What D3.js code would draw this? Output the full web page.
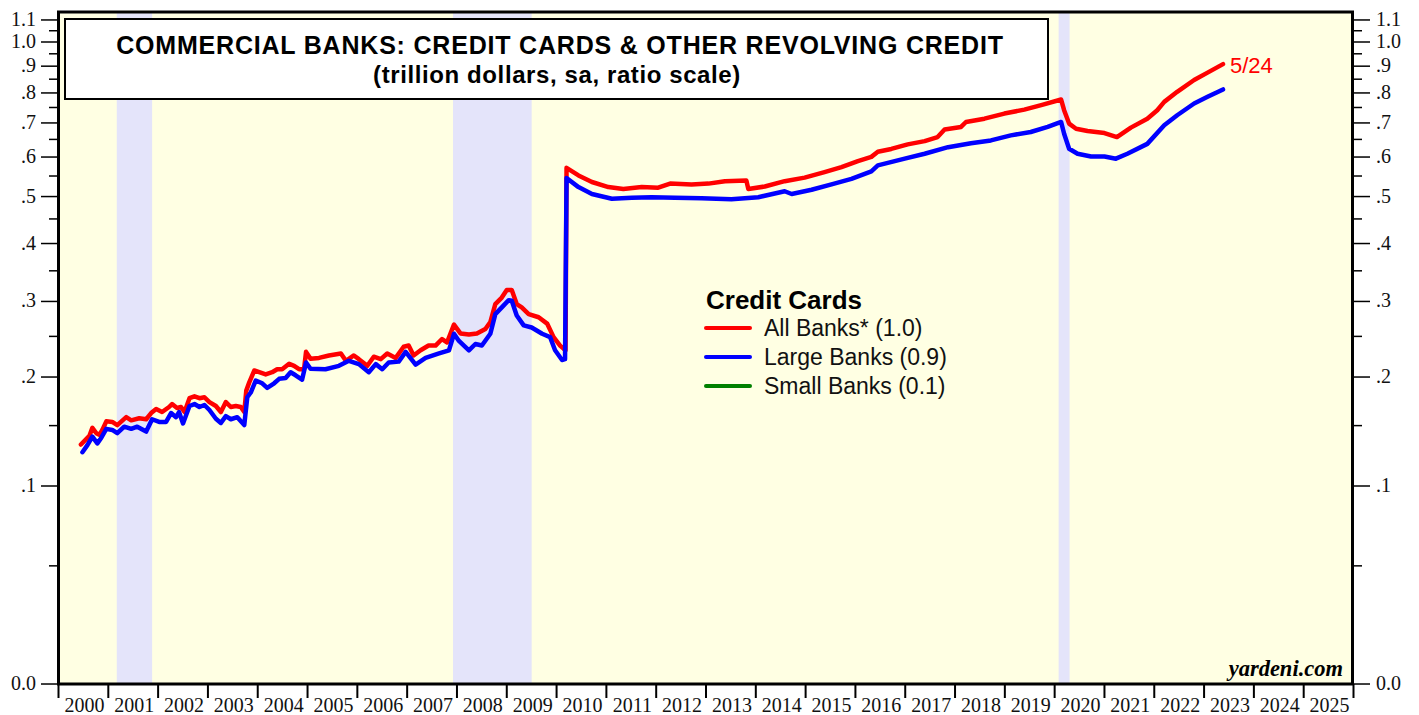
<!DOCTYPE html>
<html><head><meta charset="utf-8">
<script src="https://cdn.jsdelivr.net/npm/d3@7"></script>
<style>body{margin:0;background:#fff}svg{display:block}</style>
</head><body>
<svg id="chart" width="1419" height="715"></svg>
<script>
// ---------- DATA ----------
const yearTicks = d3.range(2000, 2026);
const yTickLabels = [1.1, 1.0, 0.9, 0.8, 0.7, 0.6, 0.5, 0.4, 0.3, 0.2, 0.1, 0.0];
const yTickText = ["1.1","1.0",".9",".8",".7",".6",".5",".4",".3",".2",".1","0.0"];
const yMinorTicks = [1.05, 0.95, 0.85, 0.75, 0.65, 0.55, 0.45, 0.35, 0.25, 0.15, 0.05];
const recessions = [[2001.17, 2001.88], [2007.92, 2009.5], [2020.08, 2020.3]];

const allDates = [2000.45,2000.62,2000.68,2000.76,2000.82,2000.88,2000.96,2001.08,2001.18,2001.36,2001.46,2001.62,2001.76,2001.86,2001.96,
 2002.08,2002.22,2002.28,2002.38,2002.46,2002.53,2002.63,2002.73,2002.83,2002.93,2003.03,2003.16,2003.26,2003.36,2003.46,2003.56,2003.66,2003.73,
 2003.77,2003.83,2003.93,2004.03,2004.16,2004.29,2004.39,2004.49,2004.63,2004.73,2004.83,2004.93,2004.97,2005.06,2005.23,2005.43,2005.67,2005.77,
 2005.93,2006.03,2006.20,2006.33,2006.47,2006.60,2006.77,2006.93,2007.03,2007.13,2007.27,2007.43,2007.57,2007.70,2007.80,2007.94,2008.07,2008.24,
 2008.40,2008.57,2008.67,2008.77,2008.90,2009.00,2009.10,2009.20,2009.30,2009.44,2009.64,2009.81,2009.94,2010.07,2010.14,2010.18,2010.20,2010.44,
 2010.71,2011.04,2011.34,2011.71,2012.04,2012.28,2012.71,2013.05,2013.38,2013.81,2013.85,2014.18,2014.58,2014.98,2015.38,2015.72,2016.05,2016.32,
 2016.45,2016.72,2017.05,2017.39,2017.65,2017.79,2018.12,2018.22,2018.59,2018.99,2019.39,2019.73,2020.13,2020.19,2020.29,2020.43,2020.66,2021.00,
 2021.25,2021.53,2021.86,2022.06,2022.20,2022.46,2022.80,2023.07,2023.38];
const allBanks = [0.133,0.1406,0.148,0.143,0.1415,0.146,0.154,0.1535,0.1505,0.158,0.155,0.157,0.156,0.162,0.166,
 0.163,0.168,0.171,0.167,0.168,0.163,0.177,0.179,0.177,0.178,0.173,0.169,0.163,0.173,0.168,0.169,0.168,0.163,
 0.185,0.194,0.2075,0.2055,0.203,0.2055,0.209,0.209,0.2155,0.213,0.209,0.209,0.230,0.2215,0.2225,0.2255,0.228,0.219,
 0.2255,0.221,0.213,0.224,0.221,0.228,0.2225,0.2365,0.238,0.2255,0.232,0.238,0.238,0.2465,0.242,0.266,0.254,0.2525,
 0.254,0.260,0.2695,0.296,0.306,0.318,0.318,0.296,0.291,0.281,0.2765,0.2675,0.249,0.238,0.234,0.232,0.571,0.5515,
 0.535,0.5225,0.518,0.5225,0.521,0.531,0.529,0.531,0.537,0.539,0.518,0.524,0.537,0.546,0.560,0.573,0.589,0.6005,
 0.6145,0.6225,0.6355,0.645,0.657,0.6795,0.6875,0.703,0.7135,0.730,0.743,0.758,0.777,0.741,0.698,0.682,0.675,0.669,
 0.657,0.6855,0.7135,0.741,0.769,0.804,0.847,0.875,0.908];

const largeDates = [2000.48,2000.58,2000.68,2000.78,2000.86,2000.96,2001.08,2001.18,2001.32,2001.46,2001.58,2001.76,2001.88,2002.02,2002.16,
 2002.26,2002.36,2002.42,2002.50,2002.63,2002.73,2002.83,2002.93,2003.03,2003.16,2003.26,2003.36,2003.46,2003.59,2003.73,2003.79,2003.86,2003.96,
 2004.09,2004.19,2004.33,2004.43,2004.56,2004.66,2004.76,2004.89,2004.97,2005.06,2005.36,2005.63,2005.83,2006.03,2006.23,2006.37,2006.50,2006.63,
 2006.83,2006.97,2007.17,2007.37,2007.64,2007.84,2007.94,2008.04,2008.24,2008.37,2008.50,2008.67,2008.77,2008.90,2009.04,2009.10,2009.20,2009.34,
 2009.50,2009.71,2009.87,2009.97,2010.11,2010.17,2010.20,2010.44,2010.71,2011.11,2011.51,2011.91,2012.38,2012.91,2013.51,2014.05,2014.58,2014.72,
 2015.12,2015.52,2015.92,2016.32,2016.45,2016.99,2017.39,2017.86,2018.32,2018.72,2019.12,2019.52,2019.86,2020.13,2020.19,2020.29,2020.46,2020.73,
 2021.00,2021.23,2021.46,2021.86,2022.20,2022.46,2022.80,2023.07,2023.38];
const largeBanks = [0.1265,0.1325,0.140,0.134,0.139,0.147,0.146,0.143,0.149,0.147,0.149,0.1445,0.156,0.1535,0.1535,
 0.162,0.158,0.163,0.152,0.169,0.171,0.168,0.170,0.165,0.1565,0.1525,0.159,0.156,0.158,0.1505,0.178,0.183,0.196,
 0.193,0.188,0.193,0.198,0.199,0.2055,0.202,0.197,0.217,0.2095,0.209,0.213,0.219,0.215,0.2055,0.215,0.209,0.217,
 0.218,0.230,0.2145,0.2225,0.228,0.232,0.2535,0.244,0.232,0.240,0.238,0.2535,0.281,0.291,0.302,0.301,0.279,0.265,
 0.262,0.2535,0.249,0.232,0.220,0.221,0.545,0.5225,0.506,0.495,0.497,0.4985,0.497,0.496,0.494,0.4985,0.5125,0.506,
 0.516,0.529,0.543,0.562,0.5775,0.5955,0.609,0.6275,0.639,0.647,0.662,0.672,0.6875,0.703,0.667,0.623,0.609,0.6015,
 0.6015,0.5955,0.609,0.637,0.6925,0.7245,0.7635,0.7865,0.8125];

const legendTitle = "Credit Cards";
const legendNames = ["All Banks* (1.0)", "Large Banks (0.9)", "Small Banks (0.1)"];
const legendColors = ["#ff0000", "#0000ff", "#008000"];
const titleLines = ["COMMERCIAL BANKS: CREDIT CARDS & OTHER REVOLVING CREDIT", "(trillion dollars, sa, ratio scale)"];

// ---------- LAYOUT ----------
const svg = d3.select("#chart");
const L = 58.5, R = 1352.5, T = 12, B = 684;
const OFF = 0.0825;
const x = d3.scaleLinear().domain([2000, 2026]).range([L, R + 1]);
const yl = d3.scaleLog().domain([0.1 + OFF, 1.0 + OFF]).range([486, 42]);
const y = v => yl(v + OFF);
const sans = "Liberation Sans, Arial, sans-serif";
const serif = "Liberation Serif, Times New Roman, serif";

svg.append("rect").attr("x", L).attr("y", T).attr("width", R - L).attr("height", B - T).attr("fill", "#ffffe3");
svg.selectAll("rect.rec").data(recessions).join("rect").attr("class", "rec")
  .attr("x", d => x(d[0])).attr("width", d => x(d[1]) - x(d[0]))
  .attr("y", T).attr("height", B - T).attr("fill", "#e4e4fa");

// title box
svg.append("rect").attr("x", 65).attr("y", 19).attr("width", 983).attr("height", 80)
  .attr("fill", "#fff").attr("stroke", "#000").attr("stroke-width", 2);
svg.append("text").attr("x", 560).attr("y", 54).attr("text-anchor", "middle")
  .attr("font-family", sans).attr("font-weight", "bold").attr("font-size", 25).attr("letter-spacing", 0.8)
  .text(titleLines[0]);
svg.append("text").attr("x", 557).attr("y", 83).attr("text-anchor", "middle")
  .attr("font-family", sans).attr("font-weight", "bold").attr("font-size", 24).attr("letter-spacing", 0.6)
  .text(titleLines[1]);

// lines
const line = d3.line().x(d => x(d[0])).y(d => y(d[1]));
svg.append("path").datum(allDates.map((d, i) => [d, allBanks[i]]))
  .attr("d", line).attr("fill", "none").attr("stroke", legendColors[0]).attr("stroke-width", 4.5)
  .attr("stroke-linejoin", "round").attr("stroke-linecap", "round");
svg.append("path").datum(largeDates.map((d, i) => [d, largeBanks[i]]))
  .attr("d", line).attr("fill", "none").attr("stroke", legendColors[1]).attr("stroke-width", 4.5)
  .attr("stroke-linejoin", "round").attr("stroke-linecap", "round");

svg.append("text").attr("x", x(2023.38) + 7).attr("y", 73)
  .attr("font-family", sans).attr("font-size", 22).attr("fill", "#ff0000").text("5/24");

// legend
const lg = svg.append("g").attr("font-family", sans);
lg.append("text").attr("x", 706).attr("y", 309).attr("font-weight", "bold").attr("font-size", 26).text(legendTitle);
legendNames.forEach((n, i) => {
  const yy = 328 + i * 29;
  lg.append("line").attr("x1", 706).attr("x2", 750).attr("y1", yy).attr("y2", yy)
    .attr("stroke", legendColors[i]).attr("stroke-width", 4).attr("stroke-linecap", "round");
  lg.append("text").attr("x", 764).attr("y", yy + 8).attr("font-size", 23).attr("fill", "#111").text(n);
});

// watermark
svg.append("text").attr("x", 1343).attr("y", 676).attr("text-anchor", "end")
  .attr("font-family", serif).attr("font-weight", "bold").attr("font-style", "italic")
  .attr("font-size", 22.5).text("yardeni.com");

// frame
svg.append("rect").attr("x", L).attr("y", T).attr("width", R - L).attr("height", B - T)
  .attr("fill", "none").attr("stroke", "#000").attr("stroke-width", 3);

// y axes
function yAxis(side) {
  const g = svg.append("g");
  const dir = side === "left" ? -1 : 1;
  const base = side === "left" ? L - 1.5 : R + 1.5;
  g.selectAll("line.maj").data(yTickLabels).join("line").attr("class", "maj")
    .attr("x1", base).attr("x2", base + dir * 16).attr("y1", d => y(d)).attr("y2", d => y(d))
    .attr("stroke", "#000").attr("stroke-width", 1.5);
  g.selectAll("line.min").data(yMinorTicks).join("line").attr("class", "min")
    .attr("x1", base).attr("x2", base + dir * 8).attr("y1", d => y(d)).attr("y2", d => y(d))
    .attr("stroke", "#000").attr("stroke-width", 1.5);
  g.selectAll("text").data(yTickLabels).join("text")
    .attr("x", side === "left" ? 36 : 1376).attr("y", d => y(d) + 6)
    .attr("text-anchor", side === "left" ? "end" : "start")
    .attr("font-family", serif).attr("font-size", 20).attr("fill", "#111")
    .text((d, i) => yTickText[i]);
}
yAxis("left"); yAxis("right");

// x axis
const gx = svg.append("g");
gx.selectAll("line").data(yearTicks.concat([2026])).join("line")
  .attr("x1", d => x(d)).attr("x2", d => x(d)).attr("y1", B).attr("y2", B + 14)
  .attr("stroke", "#000").attr("stroke-width", 2);
gx.selectAll("text").data(yearTicks).join("text")
  .attr("x", d => x(d + 0.5) + 1).attr("y", 712).attr("text-anchor", "middle")
  .attr("font-family", serif).attr("font-size", 20).attr("fill", "#111").text(d => d);
</script>
</body></html>
